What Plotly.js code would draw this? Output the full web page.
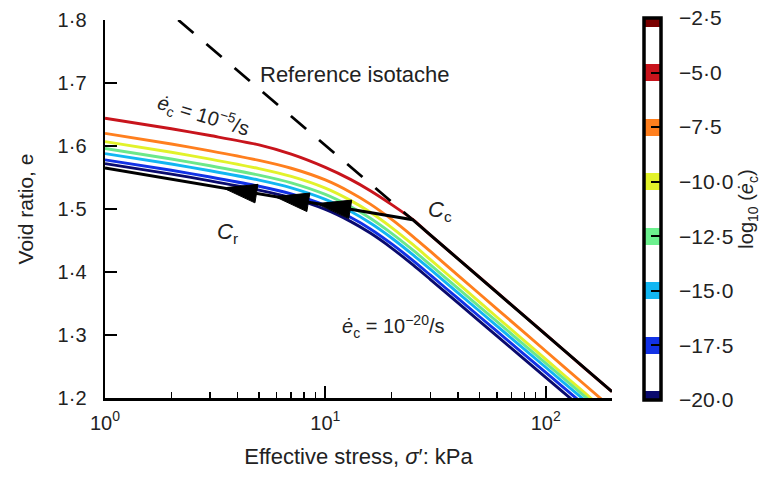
<!DOCTYPE html>
<html>
<head>
<meta charset="utf-8">
<script src="https://cdn.plot.ly/plotly-3.0.1.min.js"></script>
<style>html,body{margin:0;padding:0;background:#fff;}#chart{width:777px;height:478px;}</style>
</head>
<body>
<div id="chart"></div>
<script>
// ---- data ----
const stress = [1, 2, 3, 5, 7, 10, 13, 16, 20, 25, 30, 40, 60, 100, 150, 200];
const rateLogs = [-5, -7.5, -10, -12.5, -15, -17.5, -20];
const eRate5    = [1.644, 1.6274, 1.6166, 1.6017, 1.587, 1.566, 1.547, 1.529, 1.507, 1.483, 1.4585, 1.421, 1.368, 1.301, 1.2475, 1.210];
const eRate7_5  = [1.620, 1.6031, 1.5922, 1.5771, 1.5647, 1.5461, 1.5267, 1.5078, 1.4835, 1.4563, 1.4326, 1.3948, 1.3416, 1.2746, 1.2214, 1.1837];
const eRate10   = [1.607, 1.5901, 1.5792, 1.5641, 1.5517, 1.5331, 1.5137, 1.4948, 1.4705, 1.4433, 1.4196, 1.3818, 1.3286, 1.2616, 1.2084, 1.1707];
const eRate12_5 = [1.596, 1.5793, 1.5686, 1.5537, 1.5415, 1.5231, 1.5040, 1.4854, 1.4614, 1.4346, 1.4112, 1.3740, 1.3215, 1.2554, 1.2030, 1.1658];
const eRate15   = [1.588, 1.5714, 1.5607, 1.5459, 1.5337, 1.5154, 1.4964, 1.4778, 1.4540, 1.4272, 1.4040, 1.3669, 1.3146, 1.2488, 1.1966, 1.1596];
const eRate17_5 = [1.578, 1.5615, 1.5508, 1.5361, 1.5240, 1.5058, 1.4868, 1.4684, 1.4446, 1.4181, 1.3949, 1.3580, 1.3060, 1.2405, 1.1886, 1.1517];
const eRate20   = [1.572, 1.5554, 1.5447, 1.5299, 1.5177, 1.4994, 1.4804, 1.4618, 1.4380, 1.4112, 1.3880, 1.3509, 1.2986, 1.2328, 1.1806, 1.1436];
const stressBlack = [1, 24.9, 200];
const eBlack      = [1.565, 1.483, 1.210];
const stressRef = [2.15, 24.9];
const eRef      = [1.8, 1.483];
const arrowStress = [3.43, 5.9, 9.14];
const yTickVals = [1.2, 1.3, 1.4, 1.5, 1.6, 1.7, 1.8];
const yTickText = ['1·2', '1·3', '1·4', '1·5', '1·6', '1·7', '1·8'];
const xTickVals = [1, 10, 100];
const xTickText = ['10<sup>0</sup>', '10<sup>1</sup>', '10<sup>2</sup>'];
const cbTickVals = [-20, -17.5, -15, -12.5, -10, -7.5, -5, -2.5];
const cbTickText = ['−20·0', '−17·5', '−15·0', '−12·5', '−10·0', '−7·5', '−5·0', '−2·5'];
const cbColors   = ['#0a0a6e', '#1232e6', '#12b6f2', '#6cf08e', '#e2f22a', '#ff7f1e', '#c8141c', '#7a0000'];

// ---- styles ----
const curveColors = ['#c8141c', '#ff7f1e', '#e2f22a', '#6ce88a', '#12b6f2', '#1232e6', '#0a0a6e'];
const curveSeries = [eRate5, eRate7_5, eRate10, eRate12_5, eRate15, eRate17_5, eRate20];
const FONT = 'Liberation Sans, Arial, sans-serif';
const TXT = '#222';

const traces = [];
curveSeries.forEach((ys, i) => {
  traces.push({x: stress, y: ys, type: 'scatter', mode: 'lines',
    line: {color: curveColors[i], width: 2.9, shape: 'spline', smoothing: 0.8},
    hoverinfo: 'skip', showlegend: false, name: 'log rate ' + rateLogs[i]});
});
traces.push({x: stressRef, y: eRef, type: 'scatter', mode: 'lines',
  line: {color: '#000', width: 2.8, dash: '20px,17px'}, showlegend: false, hoverinfo: 'skip'});
traces.push({x: stressBlack, y: eBlack, type: 'scatter', mode: 'lines',
  line: {color: '#000', width: 3}, showlegend: false, hoverinfo: 'skip'});

// colorbar (discrete bands at tick levels)
const cmin = -20, cmax = -2.5, half = 0.39, eps = 1e-4;
const cs = [];
const norm = v => Math.min(1, Math.max(0, (v - cmin) / (cmax - cmin)));
cs.push([0, cbColors[0]]);
cbTickVals.forEach((v, i) => {
  const a = norm(v - half), b = norm(v + half);
  if (a > 0) { cs.push([Math.max(0, a - eps), '#ffffff']); cs.push([a, cbColors[i]]); }
  cs.push([b, cbColors[i]]);
  if (b < 1) cs.push([Math.min(1, b + eps), '#ffffff']);
});
if (cs[cs.length - 1][0] < 1) cs.push([1, cbColors[cbColors.length - 1]]);
traces.push({x: [null], y: [null], type: 'scatter', mode: 'markers', showlegend: false, hoverinfo: 'skip',
  marker: {color: cbTickVals, cmin: cmin, cmax: cmax, colorscale: cs, showscale: true, size: 1,
    colorbar: {x: 1.063, xanchor: 'left', y: 0.5, yanchor: 'middle', len: 382, lenmode: 'pixels',
      thickness: 17, outlinewidth: 3.5, outlinecolor: '#000', xpad: 0, ypad: 0,
      tickmode: 'array', tickvals: cbTickVals, ticktext: cbTickText.map(t => '\u00a0\u00a0' + t),
      ticks: 'inside', ticklen: 11, tickwidth: 2, tickcolor: '#000',
      tickfont: {family: FONT, size: 21, color: TXT},
      title: {text: 'log<sub>10</sub> (<i>ė</i><sub>c</sub>)', side: 'right', font: {family: FONT, size: 20, color: TXT}}}}});

// arrows along the black unloading line
const lerpBlack = s => {
  const l = Math.log10(s), l0 = Math.log10(stressBlack[0]), l1 = Math.log10(stressBlack[1]);
  return eBlack[0] + (eBlack[1] - eBlack[0]) * (l - l0) / (l1 - l0);
};
const shapes = arrowStress.map(s => ({type: 'path', xref: 'x', yref: 'y', xsizemode: 'pixel', ysizemode: 'pixel',
  xanchor: s, yanchor: lerpBlack(s), path: 'M0,0 L35,3.5 L32,-15 Z', fillcolor: '#000', line: {color: '#000', width: 1}, layer: 'above'}));

const annFont = {family: FONT, size: 22, color: TXT};
const annotations = [
  {x: Math.log10(4.94), y: 1.713, xref: 'x', yref: 'y', text: 'Reference isotache', showarrow: false, xanchor: 'left', font: annFont},
  {x: Math.log10(2.8), y: 1.648, xref: 'x', yref: 'y', text: '<i>ė</i><sub>c</sub> = 10<sup>−5</sup>/s', showarrow: false, textangle: 17, font: {family: FONT, size: 20, color: TXT}},
  {x: Math.log10(20.2), y: 1.313, xref: 'x', yref: 'y', text: '<i>ė</i><sub>c</sub> = 10<sup>−20</sup>/s', showarrow: false, font: {family: FONT, size: 20, color: TXT}},
  {x: Math.log10(33), y: 1.497, xref: 'x', yref: 'y', text: '<i>C</i><sub>c</sub>', showarrow: false, font: annFont},
  {x: Math.log10(3.6), y: 1.462, xref: 'x', yref: 'y', text: '<i>C</i><sub>r</sub>', showarrow: false, font: annFont}
];

const layout = {
  width: 777, height: 478,
  margin: {l: 105, r: 165, t: 20, b: 80, pad: 0},
  paper_bgcolor: '#fff', plot_bgcolor: '#fff',
  font: {family: FONT, size: 20, color: TXT},
  showlegend: false,
  xaxis: {type: 'log', range: [0, Math.log10(200)], showgrid: false, zeroline: false,
    showline: true, linecolor: '#000', linewidth: 2.5, mirror: false,
    ticks: 'inside', ticklen: 12, tickwidth: 2, tickcolor: '#000',
    tickmode: 'array', tickvals: xTickVals, ticktext: xTickText, ticklabelstandoff: 5,
    minor: {ticks: 'inside', ticklen: 6, tickwidth: 1.5, tickcolor: '#000', dtick: 'D1', showgrid: false},
    tickfont: {family: FONT, size: 20, color: TXT},
    title: {text: 'Effective stress, <i>σ</i>′: kPa', font: {family: FONT, size: 22, color: TXT}, standoff: 16}},
  yaxis: {range: [1.2, 1.8], showgrid: false, zeroline: false,
    showline: true, linecolor: '#000', linewidth: 2.5, mirror: false,
    ticks: 'inside', ticklen: 12, tickwidth: 2, tickcolor: '#000',
    tickmode: 'array', tickvals: yTickVals, ticktext: yTickText, ticklabelstandoff: 12,
    tickfont: {family: FONT, size: 20, color: TXT},
    title: {text: 'Void ratio, e', font: {family: FONT, size: 21, color: TXT}, standoff: 18}},
  shapes: shapes,
  annotations: annotations
};

Plotly.newPlot('chart', traces, layout, {staticPlot: true, displayModeBar: false});
</script>
</body>
</html>
